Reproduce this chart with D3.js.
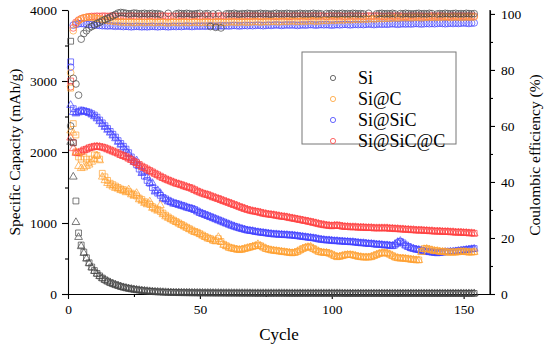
<!DOCTYPE html>
<html>
<head>
<meta charset="utf-8">
<script src="https://d3js.org/d3.v7.min.js"></script>
<style>
  body { margin: 0; background: white; }
</style>
</head>
<body>
<div id="d3-container"></div>
<script>
// capacity (mAh/g) per cycle, cycle 1..154 ; squares / triangles
const siSquare = [3560,2130,1310,860,690,590,510,440,380,330,
290,255,225,200,180,160,145,130,118,105,
95,86,78,71,65,59,54,49,45,41,
38,35,32,30,28,26,24,23,22,21,
20,19,19,18,18,17,17,16,16,15,
15,15,14,14,14,13,13,13,13,12,
12,12,12,12,11,11,11,11,11,11,
10,10,10,10,10,10,10,10,10,10,
10,10,10,9,9,9,9,9,9,9,
9,9,9,9,9,9,9,9,9,9,
9,9,9,9,8,8,8,8,8,8,
8,8,8,8,8,8,8,8,8,8,
8,8,8,8,8,8,8,8,8,8,
8,8,8,8,8,8,8,8,8,8,
8,8,8,8,8,8,8,8,8,8,
8,8,8,8];
const siTriangle = [2140,1650,1010,800,670,575,495,430,370,322,
283,250,220,196,176,157,142,128,116,103,
93,84,77,70,64,58,53,48,44,40,
37,34,31,29,27,25,24,22,21,20,
19,19,18,18,17,17,16,16,15,15,
15,14,14,14,13,13,13,12,12,12,
12,12,11,11,11,11,11,11,10,10,
10,10,10,10,10,10,10,10,10,10,
10,10,9,9,9,9,9,9,9,9,
9,9,9,9,9,9,9,9,9,9,
9,9,9,8,8,8,8,8,8,8,
8,8,8,8,8,8,8,8,8,8,
8,8,8,8,8,8,8,8,8,8,
8,8,8,8,8,8,8,8,8,8,
8,8,8,8,8,8,8,8,8,8,
8,8,8,8];

const siCSquare = [2900,2400,2240,1930,1900,1930,1900,1850,1900,1960,
1950,1900,1700,1650,1600,1560,1540,1520,1500,1480,
1470,1450,1440,1420,1400,1380,1350,1330,1300,1280,
1260,1230,1210,1190,1160,1140,1110,1085,1060,1040,
1020,1000,980,960,940,920,900,880,870,850,
830,810,790,780,760,750,780,740,700,680,
660,650,640,630,625,630,640,650,660,670,
680,690,680,660,640,630,620,615,610,605,
600,595,590,585,580,585,600,620,640,655,
665,660,640,620,600,590,585,585,575,560,
540,525,530,540,550,555,555,550,540,530,
525,520,520,520,525,540,555,570,580,580,
575,560,540,520,510,505,505,500,495,490,
485,480,480,600,640,640,630,620,610,610,
600,600,595,590,590,590,590,595,600,600,
595,590,590,595];
const siCTriangle = [2300,2270,2000,1800,1770,1780,1800,1820,1860,1900,
1950,1880,1650,1600,1560,1530,1510,1490,1480,1460,
1450,1430,1470,1400,1380,1420,1330,1310,1280,1260,
1300,1210,1190,1170,1250,1120,1090,1070,1050,1030,
1010,990,970,950,930,910,890,870,860,840,
820,800,780,770,750,740,800,730,690,670,
650,640,630,625,620,625,635,645,655,665,
675,700,675,655,635,625,615,610,605,600,
595,590,585,580,575,580,595,615,635,650,
660,665,635,615,595,585,580,580,570,555,
535,520,525,535,545,550,550,545,535,525,
520,515,515,515,520,535,550,565,575,575,
570,555,535,515,505,500,500,495,490,485,
480,475,475,590,630,635,625,615,605,605,
595,595,590,585,585,585,585,590,595,595,
590,585,585,590];

const siSiCSquare = [3270,2610,2560,2570,2590,2580,2570,2560,2540,2520,
2490,2450,2410,2370,2330,2290,2250,2210,2160,2120,
2080,2040,1990,1930,1870,1820,1760,1720,1660,1600,
1560,1500,1460,1420,1390,1360,1340,1320,1300,1285,
1275,1265,1250,1240,1225,1215,1205,1190,1170,1150,
1135,1120,1105,1090,1075,1060,1045,1030,1015,1000,
985,970,955,945,930,920,910,900,895,890,
880,875,870,865,860,855,850,845,845,840,
840,835,835,830,830,825,820,815,810,805,
800,795,790,785,775,770,765,760,760,755,
750,750,745,745,740,740,735,735,730,725,
720,720,715,710,710,705,700,700,695,690,
690,685,680,690,720,740,720,690,670,650,
640,630,625,615,605,600,595,590,585,580,
585,590,595,595,600,600,605,610,615,620,
625,630,635,640];
const siSiCTriangle = [2660,2560,2540,2555,2575,2570,2560,2545,2525,2500,
2470,2430,2390,2350,2310,2270,2230,2190,2140,2100,
2060,2020,1970,1910,1860,1880,1800,1700,1720,1650,
1560,1560,1440,1460,1420,1340,1330,1300,1290,1270,
1265,1250,1240,1230,1215,1205,1195,1180,1160,1140,
1125,1110,1095,1080,1065,1050,1035,1020,1005,990,
975,960,950,935,925,915,905,895,890,885,
875,870,865,860,855,850,845,840,840,835,
835,830,830,825,825,820,815,810,805,800,
795,790,785,780,770,765,760,755,755,750,
745,745,740,740,735,735,730,730,725,720,
715,715,710,705,705,700,695,695,690,685,
685,680,675,700,730,745,710,680,660,645,
635,625,620,610,600,595,590,585,580,575,
580,585,590,590,595,595,600,605,610,615,
620,625,630,635];

const siSiCCSquare = [3000,2130,2000,1990,2010,2030,2040,2060,2070,2080,
2080,2075,2070,2060,2045,2030,2015,2000,1985,1965,
1950,1935,1915,1895,1870,1850,1825,1800,1780,1760,
1740,1720,1700,1680,1660,1640,1620,1605,1590,1575,
1560,1550,1540,1525,1510,1500,1490,1470,1450,1435,
1420,1410,1400,1385,1370,1355,1345,1330,1315,1300,
1290,1275,1260,1245,1230,1220,1205,1190,1180,1170,
1165,1160,1150,1140,1130,1125,1120,1115,1110,1100,
1095,1090,1085,1075,1070,1065,1055,1050,1040,1035,
1025,1020,1010,1000,990,985,975,970,965,960,
965,970,965,955,950,950,945,945,945,940,
940,940,935,935,935,930,930,930,930,930,
930,925,925,920,920,915,915,910,910,905,
905,900,900,900,895,895,890,890,885,885,
885,880,880,880,875,875,870,870,870,865,
865,860,860,855];
const siSiCCTriangle = [2200,2050,1985,1980,2000,2020,2035,2050,2060,2070,
2075,2070,2060,2050,2035,2020,2005,1990,1975,1955,
1940,1925,1905,1885,1860,1840,1815,1790,1770,1750,
1730,1710,1690,1670,1650,1630,1615,1600,1585,1570,
1555,1545,1530,1515,1505,1495,1480,1460,1445,1430,
1415,1400,1390,1375,1360,1350,1335,1320,1305,1295,
1280,1265,1250,1240,1225,1210,1195,1185,1175,1165,
1160,1150,1140,1130,1125,1120,1115,1110,1100,1095,
1090,1085,1080,1070,1065,1055,1050,1040,1035,1025,
1020,1010,1000,995,985,975,970,965,960,955,
960,960,955,950,945,945,940,940,940,935,
935,935,930,930,930,925,925,925,925,925,
925,920,920,915,915,910,910,905,905,900,
900,895,895,895,890,890,885,885,880,880,
880,875,875,875,870,870,865,865,865,860,
860,855,855,850];

// coulombic efficiency (%) per cycle, circles on the right axis
const siCE = [60,77,75,71,91,93,94,95,95.5,96,
96.6,97,97.5,98,98.4,98.8,99.3,99.8,100.3,100.5,
100.4,100.2,100,100.1,100.3,100.2,100,100.1,100.2,100,
100.1,100.2,100,100.1,99.9,null,null,100.2,null,null,
100,100.2,100.1,100,100.2,100.1,99.9,100,100.1,100.2,
null,100,100.1,95.5,100,95.2,100.1,95,null,100,
100.1,100,100.2,100,99.9,100.1,100,100.2,100.1,100,
100,100.1,100.2,100,100.1,100,99.9,100.1,100.2,100,
100.1,100,100.2,100.1,100,100,100.1,100.2,100,100.1,
100,100.1,100.2,100,100.1,100,null,100.1,100,100.2,
100.1,100,100.1,100.2,100,100.1,100,100.2,100.1,100,
100.1,100,null,100.2,null,null,100,100.1,100.2,100,
100.1,100,100.2,100,null,100.1,100,100.2,100.1,100,
100,100.1,100.2,100,100.1,100,100.2,100.1,null,100,
100.1,100,100.2,100.1,100,100.1,100.2,100,100.1,100,
100.2,100.1,100,100.1];
const siCCE = [79,94,96.5,97.6,98.2,98.6,98.8,98.8,98.7,98.6,
98.4,98.2,98,97.8,97.6,97.5,97.4,97.3,97.2,97.1,
97.1,97,97.1,97,96.9,97,97.1,97,96.9,97,
97.1,97,96.9,97,97.1,97,96.9,96.8,97,97.1,
97,96.9,97,97.1,97,96.9,97,97.1,97,96.9,
97,97.1,97,96.9,97,97.1,97.2,97,96.9,97,
97.1,97.2,97.1,97,97.1,97.2,97.1,97,97.1,97.2,
97.3,97.2,97.1,97.2,97.3,97.2,97.3,97.4,97.3,97.2,
97.3,97.4,97.3,97.4,97.5,97.4,97.3,97.4,97.5,97.4,
97.5,97.6,97.5,97.4,97.5,97.6,97.7,97.6,97.7,97.8,
97.7,97.8,97.9,97.8,97.9,98,97.9,98,98.1,98,
98.1,98.2,98.1,98.2,98.3,98.2,98.3,98.4,98.3,98.4,
98.5,98.4,98.5,98.6,98.5,98.6,98.7,98.6,98.7,98.6,
98.7,98.8,98.7,98.6,98.7,98.8,98.7,98.8,98.7,98.8,
98.7,98.8,98.9,98.8,98.7,98.8,98.9,98.8,98.7,98.8,
98.9,98.8,98.8,98.9];
const siSiCCE = [81,96,96.3,96.5,96.6,96.5,96.4,96.3,96.2,96.1,
96,95.9,95.8,95.8,95.7,95.8,95.7,95.6,95.7,95.6,
95.5,95.6,95.5,95.4,95.5,95.6,95.5,95.4,95.5,95.4,
95.5,95.6,95.5,95.4,95.5,95.6,95.5,95.4,95.5,95.6,
95.5,95.6,95.5,95.6,95.7,95.6,95.5,95.6,95.7,95.6,
95.7,95.6,95.7,95.8,95.7,95.6,95.7,95.8,95.7,95.8,
95.7,95.8,95.9,95.8,95.7,95.8,95.9,95.8,95.9,95.8,
95.9,96,95.9,95.8,95.9,96,95.9,96,96.1,96,
95.9,96,96.1,96,96.1,96,95.9,96,96.1,96,
96.1,96.2,96.1,96,96.1,96.2,96.1,96.2,96.1,96,
96.1,96.2,96.1,96.2,96.3,96.2,96.1,96.2,96.3,96.2,
96.3,96.2,96.3,96.4,96.3,96.2,96.3,96.4,96.3,96.4,
96.3,96.4,96.5,96.4,96.3,96.4,96.5,96.4,96.5,96.4,
96.5,96.6,96.5,96.4,96.5,96.6,96.5,96.6,96.5,96.6,
96.7,96.6,96.5,96.6,96.7,96.6,96.7,96.6,96.7,96.8,
96.7,96.6,96.7,96.8];
const siSiCCCE = [74,95,97,97.8,98.3,98.6,98.8,99,99.1,99.1,
99.2,99.1,99.2,99.2,99.1,99.2,99.3,99.2,99.1,99.2,
99.2,99.1,99.2,99.3,99.2,99.1,99.2,99.2,99.1,99.2,
99.3,99.2,99.1,99.2,99.2,99.3,99.2,99.1,99.2,99.2,
99.1,99.2,99.3,99.2,99.2,99.1,99.2,99.3,99.2,99.1,
99.2,99.2,99.3,99.2,99.1,99.2,99.2,99.3,99.2,99.2,
99.1,99.2,99.3,99.2,99.2,99.1,99.2,99.3,99.2,99.2,
99.3,99.2,99.1,99.2,99.2,99.3,99.2,99.2,99.1,99.2,
99.3,99.2,99.2,99.1,99.2,99.3,99.2,99.2,99.3,99.2,
99.1,99.2,99.3,99.2,99.2,99.3,99.2,99.1,99.2,99.3,
99.2,99.2,99.3,99.2,99.1,99.2,99.3,99.2,99.2,99.3,
99.2,99.1,99.2,99.3,99.2,99.2,99.3,99.2,99.2,99.1,
99.2,99.3,99.2,99.2,99.3,99.2,99.2,99.1,99.2,99.3,
99.2,99.2,99.3,99.2,99.2,99.1,99.2,99.3,99.2,99.2,
99.3,99.2,99.2,99.1,99.2,99.3,99.2,99.2,99.3,99.2,
99.2,99.3,99.2,99.2];

const legendNames = ["Si", "Si@C", "Si@SiC", "Si@SiC@C"];
const xTicks = [0, 50, 100, 150];
const yTicks = [0, 1000, 2000, 3000, 4000];
const ceTicks = [0, 20, 40, 60, 80, 100];

let margin = {top: 10, left: 68, right: 60, bottom: 56},
  width = 550 - margin.left - margin.right,
  height = 350 - margin.top - margin.bottom;

const fontStack = '"Liberation Serif", "Times New Roman", Times, serif';
const colors = {"Si": "#444444", "Si@C": "#ffa030", "Si@SiC": "#4040ff", "Si@SiC@C": "#ff4040"};

let svg = d3.select('#d3-container')
  .append('svg')
  .attr('width', 550)
  .attr('height', 350)
  .style('background-color', 'white')
  .append('g')
  .attr('transform', `translate(${margin.left},${margin.top})`);

const x = d3.scaleLinear().domain([0, 160]).range([0, width]);
const y = d3.scaleLinear().domain([0, 4000]).range([height, 0]);
const y2 = d3.scaleLinear().domain([0, 101.4]).range([height, 0]);

// axes: major + minor ticks
function styleAxis(g) {
  g.attr('font-family', null).attr('font-size', null);
  g.selectAll('path, line').attr('stroke', '#000').attr('stroke-width', 1.1);
  g.selectAll('text').attr('fill', '#000')
    .style('font-family', fontStack).style('font-size', '13.5px');
}

svg.append('g').attr('transform', `translate(0,${height})`)
  .call(d3.axisBottom(x).tickValues([25, 75, 125]).tickSize(3).tickFormat(''))
  .call(g => g.select('.domain').remove()).call(styleAxis);
svg.append('g').attr('transform', `translate(0,${height})`)
  .call(d3.axisBottom(x).tickValues(xTicks).tickSize(5).tickSizeOuter(0).tickPadding(5).tickFormat(d3.format('d')))
  .call(styleAxis);

svg.append('g')
  .call(d3.axisLeft(y).tickValues([500, 1500, 2500, 3500]).tickSize(3).tickFormat(''))
  .call(g => g.select('.domain').remove()).call(styleAxis);
svg.append('g')
  .call(d3.axisLeft(y).tickValues(yTicks).tickSize(6).tickSizeOuter(0).tickPadding(5).tickFormat(d3.format('d')))
  .call(styleAxis);

svg.append('g').attr('transform', `translate(${width},0)`)
  .call(d3.axisRight(y2).tickValues([10, 30, 50, 70, 90]).tickSize(3).tickFormat(''))
  .call(g => g.select('.domain').remove()).call(styleAxis);
svg.append('g').attr('transform', `translate(${width},0)`)
  .call(d3.axisRight(y2).tickValues(ceTicks).tickSize(5).tickSizeOuter(0).tickPadding(6).tickFormat(d3.format('d')))
  .call(styleAxis);
// right axis line up to the top like the left one
svg.append('line').attr('x1', width).attr('x2', width).attr('y1', 0).attr('y2', height)
  .attr('stroke', '#000').attr('stroke-width', 1.1);

// titles
svg.append('text').attr('x', width / 2).attr('y', height + 46)
  .attr('text-anchor', 'middle')
  .style('font-family', fontStack).style('font-size', '17px').text('Cycle');
svg.append('text')
  .attr('transform', `translate(${-48},${height / 2}) rotate(-90)`)
  .attr('text-anchor', 'middle')
  .style('font-family', fontStack).style('font-size', '15.5px').text('Specific Capacity (mAh/g)');
svg.append('text')
  .attr('transform', `translate(${width + 50},${height / 2 + 3}) rotate(-90)`)
  .attr('text-anchor', 'middle')
  .style('font-family', fontStack).style('font-size', '15.5px').text('Coulombic efficiency (%)');

// markers
function drawMarks(values, scale, type, size, color) {
  const pts = values.map((v, i) => ({c: i + 1, v: v})).filter(d => d.v != null);
  svg.append('g').selectAll('path')
    .data(pts)
    .join('path')
      .attr('d', d3.symbol().type(type).size(size))
      .attr('transform', d => `translate(${x(d.c)},${scale(d.v)})`)
      .attr('fill', 'none')
      .attr('stroke', color)
      .attr('stroke-width', 0.7);
}

const series = [
  {name: "Si@SiC", sq: siSiCSquare, tri: siSiCTriangle, ce: siSiCCE},
  {name: "Si@SiC@C", sq: siSiCCSquare, tri: siSiCCTriangle, ce: siSiCCCE},
  {name: "Si@C", sq: siCSquare, tri: siCTriangle, ce: siCCE},
  {name: "Si", sq: siSquare, tri: siTriangle, ce: siCE}
];
series.forEach(s => {
  drawMarks(s.sq, y, d3.symbolSquare, 34, colors[s.name]);
  drawMarks(s.tri, y, d3.symbolTriangle, 26, colors[s.name]);
  drawMarks(s.ce, y2, d3.symbolCircle, 36, colors[s.name]);
});

// legend
const legend = svg.append('g').attr('transform', 'translate(234,42)');
legend.append('rect').attr('width', 154).attr('height', 92)
  .attr('fill', 'white').attr('stroke', '#777').attr('stroke-width', 1);
legendNames.forEach((name, i) => {
  legend.append('circle').attr('cx', 31).attr('cy', 26 + i * 21).attr('r', 2.6)
    .attr('fill', 'none').attr('stroke', colors[name]).attr('stroke-width', 0.8);
  legend.append('text').attr('x', 56).attr('y', 32 + i * 21)
    .style('font-family', fontStack).style('font-size', '18px').text(name);
});
</script>
</body>
</html>
